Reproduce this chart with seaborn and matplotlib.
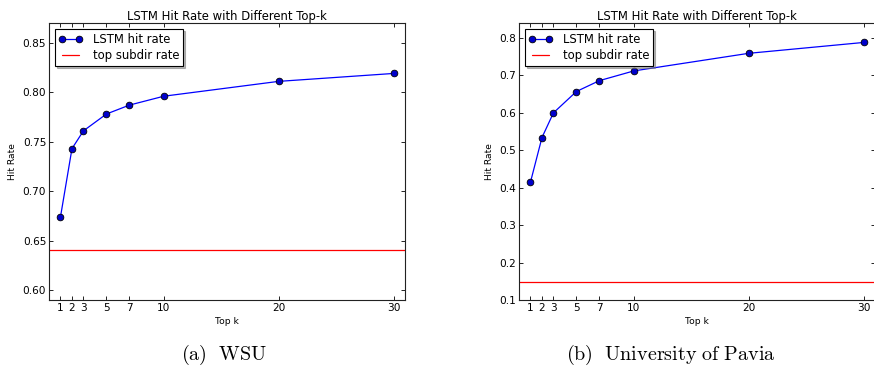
import matplotlib
matplotlib.use("Agg")
import matplotlib.pyplot as plt
import seaborn as sns
import pandas as pd

top_k = [1, 2, 3, 5, 7, 10, 20, 30]
wsu_hit = [0.674, 0.743, 0.761, 0.778, 0.787, 0.796, 0.811, 0.819]
wsu_subdir = 0.641
pavia_hit = [0.415, 0.534, 0.600, 0.657, 0.686, 0.712, 0.759, 0.788]
pavia_subdir = 0.149

panels = [
    ("WSU", wsu_hit, wsu_subdir, (0.59, 0.87), [0.60, 0.65, 0.70, 0.75, 0.80, 0.85], "%.2f", "(a)"),
    ("University of Pavia", pavia_hit, pavia_subdir, (0.10, 0.84),
     [0.1, 0.2, 0.3, 0.4, 0.5, 0.6, 0.7, 0.8], "%.1f", "(b)"),
]

sns.set_style("ticks")
plt.rcParams['font.family'] = ['DejaVu Sans']
plt.rcParams['mathtext.fontset'] = 'cm'
plt.rcParams['text.color'] = 'black'
plt.rcParams['axes.labelcolor'] = 'black'

fig = plt.figure(figsize=(8.74, 3.72), dpi=100)
lefts = [49 / 874, 519 / 874]
caption_x = [224 / 874, 671 / 874]

for left, cx, (name, hit, subdir, ylim, yticks, fmt, tag) in zip(lefts, caption_x, panels):
    ax = fig.add_axes([left, 72 / 372, 356 / 874, 277 / 372])
    df = pd.DataFrame({"Top k": top_k, "Hit Rate": hit})
    sns.lineplot(data=df, x="Top k", y="Hit Rate", ax=ax, color="blue", lw=0.9,
                 marker="o", markersize=4.8, markerfacecolor="#0000cc",
                 markeredgecolor="black", markeredgewidth=0.6, label="LSTM hit rate")
    ax.axhline(subdir, color="red", lw=0.9, label="top subdir rate")
    ax.set_xlim(0, 31)
    ax.set_ylim(*ylim)
    ax.set_xticks(top_k)
    ax.set_yticks(yticks)
    ax.set_yticklabels([fmt % v for v in yticks])
    ax.tick_params(direction="in", top=True, right=True, length=3, width=0.6,
                   labelsize=7.6, colors="black", pad=2)
    for s in ax.spines.values():
        s.set_linewidth(0.8)
        s.set_color("#222222")
    ax.set_title("LSTM Hit Rate with Different Top-k", fontsize=8.4, pad=2, color="black")
    ax.set_xlabel("Top k", fontsize=6.6, labelpad=3)
    ax.set_ylabel("Hit Rate", fontsize=6.6, labelpad=4)
    leg = ax.legend(loc="upper left", fontsize=8.4, numpoints=2,
                    shadow={'ox': 1.2, 'oy': -1.2, 'color': '0.45'},
                    fancybox=False, edgecolor="black", framealpha=1,
                    borderpad=0.35, handlelength=2.0, handletextpad=0.9,
                    labelspacing=0.3, borderaxespad=0.5)
    leg.get_frame().set_linewidth(0.8)
    fig.text(cx, 1 - 355 / 372,
             r"$\mathrm{%s\ \ %s}$" % (tag, name.replace(" ", r"\ ")),
             ha="center", va="center", fontsize=14.5)

fig.savefig("out.png", dpi=100)
